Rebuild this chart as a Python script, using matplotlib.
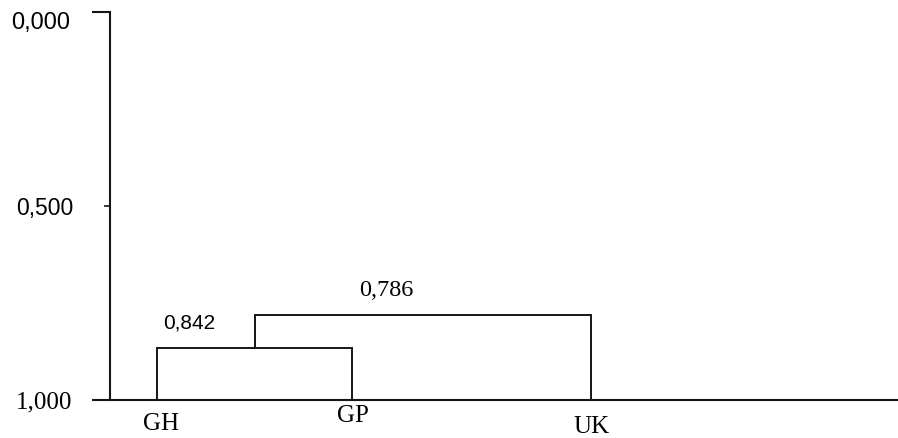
import matplotlib
matplotlib.use("Agg")
import matplotlib.pyplot as plt
import matplotlib.transforms as mtransforms

# ---- data ----
leaves = ["GH", "GP", "UK"]
leaf_x = [1.0, 2.0, 3.226]            # leaf positions along the dendrogram
merge_heights = [0.866, 0.780]        # heights of the joins as drawn
merge_labels = ["0,842", "0,786"]     # similarity values printed on the joins
ytick_vals = [0.0, 0.5, 1.0]
ytick_labels = ["0,000", "0,500", "1,000"]

SANS = "Liberation Sans"
SERIF = "Liberation Serif"
INK = "#161616"

fig = plt.figure(figsize=(8.98, 4.38), dpi=100)
fig.patch.set_facecolor("white")
ax = fig.add_axes([110 / 898, 1 - 400 / 438, 788 / 898, 388 / 438])
ax.set_facecolor("white")
ax.set_ylim(1.0, 0.0)
ax.set_xlim(1 + (110 - 157) / 195, 1 + (898 - 157) / 195)

for s in ("top", "right"):
    ax.spines[s].set_visible(False)
for s in ("left", "bottom"):
    ax.spines[s].set_linewidth(1.5)
    ax.spines[s].set_color(INK)

ax.set_xticks([])
ax.set_yticks([ytick_vals[0], ytick_vals[2]], labels=["", ""])
ax.set_yticks([ytick_vals[1]], labels=[""], minor=True)
ax.tick_params(axis="y", which="major", length=13, width=1.5, color=INK)
ax.tick_params(axis="y", which="minor", length=4, width=1.2, color=INK, pad=0)

# y tick labels as text (scan offsets)
label_fonts = [(SANS, 17, -40, 11), (SANS, 16.5, -37, 2), (SERIF, 18, -38, 2)]
for v, lab, (fam, sz, dx, dy) in zip(ytick_vals, ytick_labels, label_fonts):
    tr = mtransforms.offset_copy(ax.get_yaxis_transform(), fig=fig, x=dx, y=-dy, units="dots")
    ax.text(0, v, lab, transform=tr, ha="right", va="center",
            fontsize=sz, family=fam, color="black")

# dendrogram
lw = 1.4
h1, h2 = merge_heights
ax.plot([leaf_x[0], leaf_x[0], leaf_x[1], leaf_x[1]], [1.0, h1, h1, 1.0],
        color=INK, lw=lw, solid_joinstyle="miter", clip_on=False)
mid = (leaf_x[0] + leaf_x[1]) / 2
ax.plot([mid, mid, leaf_x[2], leaf_x[2]], [h1, h2, h2, 1.0],
        color=INK, lw=lw, solid_joinstyle="miter", clip_on=False)

# merge value labels
ann_styles = [(SANS, 15, 0.164, -0.064), (SERIF, 17.5, 0.674, -0.061)]
x_starts = [leaf_x[0], mid]
for xs, h, lab, (fam, sz, dx, dy) in zip(x_starts, merge_heights, merge_labels, ann_styles):
    ax.text(xs + dx, h + dy, lab, ha="center", va="center",
            fontsize=sz, family=fam, color="black")

# leaf labels
leaf_dx = [0.02, 0.005, -0.0]
leaf_dy = [0.062, 0.042, 0.07]
for x, lab, dx, dy in zip(leaf_x, leaves, leaf_dx, leaf_dy):
    ax.text(x + dx, 1.0 + dy, lab, ha="center", va="center", fontsize=18,
            family=SERIF, color="black", clip_on=False)

fig.savefig("out.png", dpi=100)
